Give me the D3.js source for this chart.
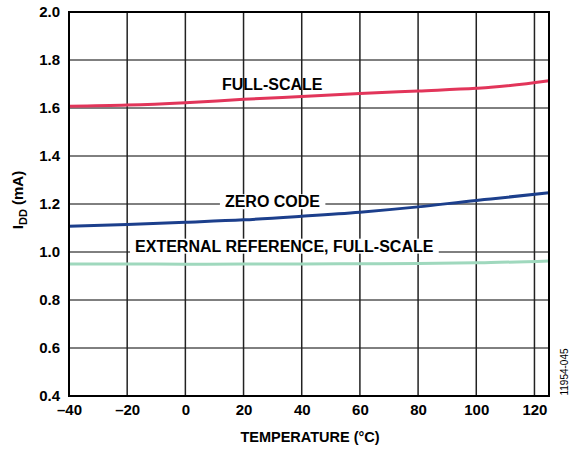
<!DOCTYPE html>
<html>
<head>
<meta charset="utf-8">
<script src="https://cdn.jsdelivr.net/npm/d3@7"></script>
<style>
    body { margin: 0; background: #fff; }
    text { font-family: "Liberation Sans", Arial, sans-serif; font-weight: bold; fill: #000; }
</style>
</head>
<body>
<svg id="chart" width="570" height="450"></svg>
<script>
// temperatures (°C) at which the curves were sampled
const temps = [-40, -20, 0, 20, 40, 60, 80, 100, 105, 125];
const fullScale = [1.607, 1.612, 1.622, 1.636, 1.648, 1.660, 1.671, 1.682, 1.686, 1.714];
const zeroCode = [1.107, 1.115, 1.124, 1.134, 1.149, 1.166, 1.188, 1.215, 1.221, 1.247];
const extRefFullScale = [0.950, 0.950, 0.949, 0.950, 0.950, 0.951, 0.952, 0.955, 0.956, 0.963];

const xTicks = [-40, -20, 0, 20, 40, 60, 80, 100, 120];
const yTicks = [0.4, 0.6, 0.8, 1.0, 1.2, 1.4, 1.6, 1.8, 2.0];

const margin = {top: 12, right: 21, bottom: 54, left: 69};
const width = 570, height = 450;

let svg = d3.select("#chart");
let x = d3.scaleLinear().domain([-40, 125]).range([margin.left, width - margin.right]);
let y = d3.scaleLinear().domain([0.4, 2.0]).range([height - margin.bottom, margin.top]);

// grid
let grid = svg.append("g");
grid.selectAll(".hgrid")
    .data(yTicks)
    .enter().append("line")
    .attr("class", "hgrid")
    .attr("x1", x(-40)).attr("x2", x(125))
    .attr("y1", d => y(d)).attr("y2", d => y(d))
    .attr("stroke", "#000").attr("stroke-width", 1);
grid.selectAll(".vgrid")
    .data(xTicks)
    .enter().append("line")
    .attr("class", "vgrid")
    .attr("x1", d => x(d)).attr("x2", d => x(d))
    .attr("y1", y(0.4)).attr("y2", y(2.0))
    .attr("stroke", "#222").attr("stroke-width", 1.5);

// curve labels with white knockout behind them
function curveLabel(txt, tx, ty, knock) {
    let g = svg.append("g");
    let t = g.append("text")
        .attr("x", tx).attr("y", ty)
        .attr("font-size", 16)
        .attr("dominant-baseline", "middle")
        .text(txt);
    if (knock) {
        let b = t.node().getBBox();
        g.insert("rect", "text")
            .attr("x", b.x - 5).attr("y", b.y + 1)
            .attr("width", b.width + 10).attr("height", b.height - 2)
            .attr("fill", "#fff");
    }
}
curveLabel("FULL-SCALE", x(12.6), y(1.692), false);
curveLabel("ZERO CODE", x(13.6), y(1.204), true);
curveLabel("EXTERNAL REFERENCE, FULL-SCALE", x(-17.3), y(1.019), true);

// curves
let line = d3.line()
    .x((d, i) => x(temps[i]))
    .y(d => y(d))
    .curve(d3.curveMonotoneX);

const series = [
    {vals: extRefFullScale, color: "#9fd8bd"},
    {vals: zeroCode, color: "#1c3f8c"},
    {vals: fullScale, color: "#e2355a"}
];
svg.selectAll(".curve")
    .data(series)
    .enter().append("path")
    .attr("class", "curve")
    .attr("d", d => line(d.vals))
    .attr("fill", "none")
    .attr("stroke", d => d.color)
    .attr("stroke-width", 3);

// frame
svg.append("rect")
    .attr("x", x(-40)).attr("y", y(2.0))
    .attr("width", x(125) - x(-40)).attr("height", y(0.4) - y(2.0))
    .attr("fill", "none").attr("stroke", "#000").attr("stroke-width", 2);

// axes
let xAxis = svg.append("g")
    .attr("transform", "translate(0," + y(0.4) + ")")
    .call(d3.axisBottom(x).tickValues(xTicks).tickSize(0).tickPadding(8)
        .tickFormat(d => d < 0 ? "\u2013" + Math.abs(d) : d));
xAxis.select(".domain").remove();
xAxis.selectAll("text").attr("font-size", 15).attr("font-family", null).attr("fill", "#000");

let yAxis = svg.append("g")
    .attr("transform", "translate(" + x(-40) + ",0)")
    .call(d3.axisLeft(y).tickValues(yTicks).tickSize(0).tickPadding(9).tickFormat(d3.format(".1f")));
yAxis.select(".domain").remove();
yAxis.selectAll("text").attr("font-size", 15).attr("font-family", null).attr("fill", "#000");

// titles
svg.append("text")
    .attr("x", 310).attr("y", 442)
    .attr("text-anchor", "middle").attr("font-size", 14.5)
    .text("TEMPERATURE (\u00B0C)");

let yt = svg.append("text")
    .attr("transform", "translate(23,200) rotate(-90)")
    .attr("text-anchor", "middle").attr("font-size", 15);
yt.append("tspan").text("I");
yt.append("tspan").attr("font-size", 11).attr("dy", 4).text("DD");
yt.append("tspan").attr("dy", -4).text(" (mA)");

svg.append("text")
    .attr("transform", "translate(568,372) rotate(-90)")
    .attr("text-anchor", "middle").attr("font-size", 10)
    .attr("fill", "#333")
    .style("font-weight", "normal")
    .text("11954-045");
</script>
</body>
</html>
